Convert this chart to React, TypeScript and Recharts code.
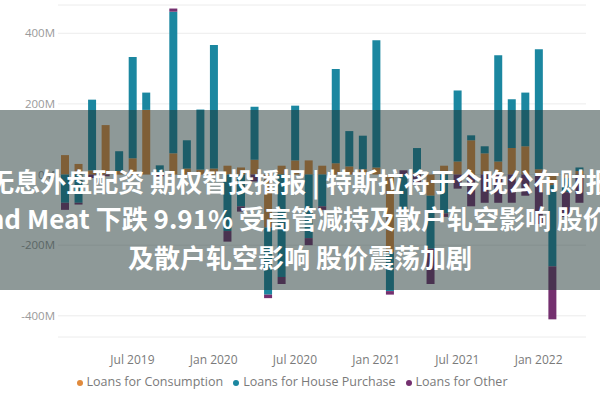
import { BarChart, Bar, XAxis, YAxis, CartesianGrid, Legend } from 'recharts';

const months = [
  'Feb 2019', 'Mar 2019', 'Apr 2019', 'May 2019', 'Jun 2019', 'Jul 2019', 'Aug 2019', 'Sep 2019', 'Oct 2019', 'Nov 2019', 'Dec 2019',
  'Jan 2020', 'Feb 2020', 'Mar 2020', 'Apr 2020', 'May 2020', 'Jun 2020', 'Jul 2020', 'Aug 2020', 'Sep 2020', 'Oct 2020', 'Nov 2020', 'Dec 2020',
  'Jan 2021', 'Feb 2021', 'Mar 2021', 'Apr 2021', 'May 2021', 'Jun 2021', 'Jul 2021', 'Aug 2021', 'Sep 2021', 'Oct 2021', 'Nov 2021', 'Dec 2021',
  'Jan 2022', 'Feb 2022', 'Mar 2022', 'Apr 2022',
];
const tickLabels = ['Jul 2019', 'Jan 2020', 'Jul 2020', 'Jan 2021', 'Jul 2021', 'Jan 2022'];

// values in millions
const consumption = [
  55, 30, 12, 140, 10, 46, 183, 5, 60, 17, 14,
  17, 25, 20, 42, -150, 25, 40, 40, 25, 32, 23, 15,
  20, -220, 0, 5, -60, 25, 37, 97, 60, 37, 75, 80,
  15, -30, -10, 10,
];
const house = [
  -80, -80, 200, 0, 56, 287, 49, 21, 401, 80, 170,
  350, -160, -90, 150, -190, -290, 155, -180, -90, 267, 100, 95,
  360, -110, -100, 70, -150, -110, 201, 14, 20, 301, 138, 152,
  340, -230, -40, 10,
];
const other = [
  -20, -5, -10, -5, 0, 0, 0, -5, 9, 0, 0,
  0, -30, -15, -20, -10, -20, 0, -20, -10, 0, 0, 0,
  0, -10, 12, -30, -100, -10, -40, -90, -80, -80, -80, -60,
  -140, -150, -70, -80,
];
const yTicks = [-400, -200, 0, 200, 400];

const data = months.map((m, i) => ({
  month: m,
  consumption: consumption[i],
  house: house[i],
  other: other[i],
}));

const headline = [
  '无息外盘配资 期权智投播报 | 特斯拉将于今晚公布财报',
  'Beyond Meat 下跌 9.91% 受高管减持及散户轧空影响 股价震荡',
  '及散户轧空影响 股价震荡加剧',
];

export default function App() {
  const axisFont = { fontFamily: 'Open Sans, sans-serif' };
  return (
    <div style={{ position: 'absolute', left: 0, top: 0, width: 600, height: 400, background: '#fff', overflow: 'hidden' }}>
      <BarChart
        width={600}
        height={400}
        data={data}
        stackOffset="sign"
        barSize={8}
        margin={{ top: 5, right: 14, bottom: 10, left: 8 }}
      >
        <CartesianGrid vertical={false} stroke="#ececec" />
        <XAxis
          dataKey="month"
          ticks={tickLabels}
          interval={0}
          axisLine={false}
          tickLine={false}
          tickSize={0}
          tickMargin={18}
          height={36}
          tick={{ fontSize: 12, fill: '#7a7a7a', ...axisFont }}
        />
        <YAxis
          domain={[-460, 480]}
          ticks={yTicks}
          width={50}
          axisLine={false}
          tickLine={false}
          tickSize={0}
          tickMargin={3}
          tickFormatter={(v: number) => `${v}M`}
          tick={{ fontSize: 11.5, fill: '#9a9a9a', ...axisFont }}
        />
        <Legend
          iconType="circle"
          iconSize={6}
          wrapperStyle={{ fontSize: 12.5, fontFamily: 'Open Sans, sans-serif' }}
          formatter={(v: string) => <span style={{ color: '#7a7a7a' }}>{v}</span>}
        />
        <Bar dataKey="consumption" name="Loans for Consumption" stackId="a" fill="#e08a3c" isAnimationActive={false} />
        <Bar dataKey="house" name="Loans for House Purchase" stackId="a" fill="#1b87a0" isAnimationActive={false} />
        <Bar dataKey="other" name="Loans for Other" stackId="a" fill="#74306f" isAnimationActive={false} />
      </BarChart>

      {/* headline banner over the chart */}
      <div
        style={{
          position: 'absolute',
          left: 0,
          top: 110,
          width: 600,
          height: 180,
          background: 'rgba(30, 52, 50, 0.5)',
          overflow: 'hidden',
          color: '#fff',
          fontFamily: '"Noto Sans CJK SC", sans-serif',
          fontWeight: 700,
          fontSize: 26,
        }}
      >
        <div style={{ position: 'absolute', left: '50%', top: 56, transform: 'translateX(-50%)', whiteSpace: 'nowrap', lineHeight: '30px' }}>
          {headline[0]}
        </div>
        <div style={{ position: 'absolute', left: -76, top: 93, whiteSpace: 'nowrap', lineHeight: '30px' }}>
          {headline[1]}
        </div>
        <div style={{ position: 'absolute', left: '50%', top: 132, transform: 'translateX(-50%)', whiteSpace: 'nowrap', lineHeight: '30px' }}>
          {headline[2]}
        </div>
      </div>
    </div>
  );
}
